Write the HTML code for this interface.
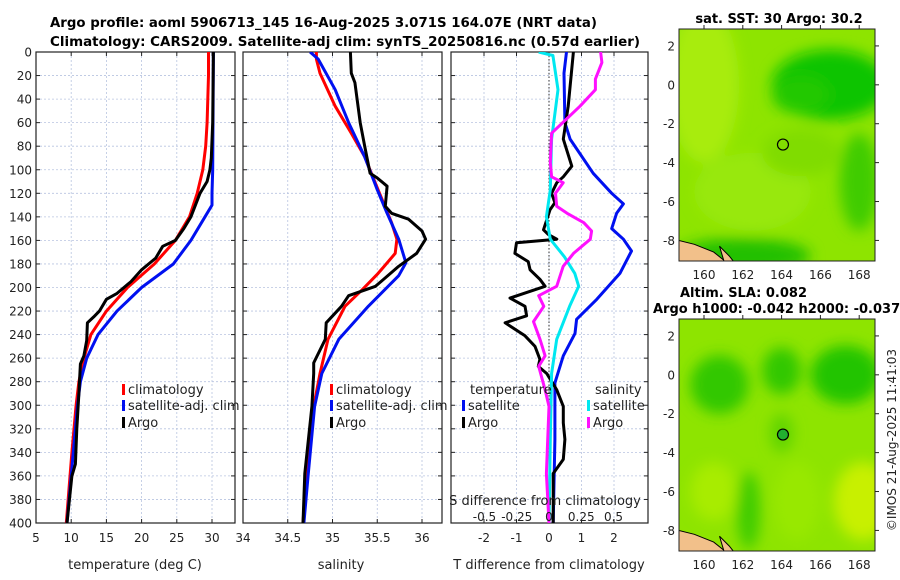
<!DOCTYPE html>
<html><head><meta charset="utf-8"><style>
html,body{margin:0;padding:0;background:#fff;}
svg{display:block;font-family:"DejaVu Sans","Liberation Sans",sans-serif;}
</style></head><body>
<svg id="fig" width="900" height="580" viewBox="0 0 900 580">
<defs>
<clipPath id="c1"><rect x="36" y="52" width="199" height="471"/></clipPath>
<clipPath id="c2"><rect x="243" y="52" width="199" height="471"/></clipPath>
<clipPath id="c3"><rect x="451" y="52" width="197" height="471"/></clipPath>
<clipPath id="m1"><rect x="679" y="29" width="196" height="232"/></clipPath>
<clipPath id="m2"><rect x="679" y="319" width="196" height="232"/></clipPath>
<filter id="bl"><feGaussianBlur stdDeviation="7"/></filter>
</defs>
<text x="50" y="27" font-size="13" font-weight="bold" textLength="547" lengthAdjust="spacingAndGlyphs">Argo profile: aoml 5906713_145 16-Aug-2025 3.071S 164.07E (NRT data)</text>
<text x="50" y="46" font-size="13" font-weight="bold" textLength="590" lengthAdjust="spacingAndGlyphs">Climatology: CARS2009. Satellite-adj clim: synTS_20250816.nc (0.57d earlier)</text>
<g id="p1"></g>
<g id="p2"></g>
<g id="p3"></g>
<g id="maps"></g>
<text transform="translate(896,440) rotate(-90)" text-anchor="middle" font-size="12" fill="#222">©IMOS 21-Aug-2025 11:41:03</text>
</svg>
<script>
// ---- data ----
const tClimDepth=[0,20,40,60,80,100,120,140,160,180,200,210,220,240,260,280,300,340,400];
const tClimVal=[29.5,29.5,29.4,29.3,29.1,28.7,27.9,26.8,24.8,21.8,18,16.5,15,12.8,11.8,11.1,10.7,10.1,9.3];
const tSatDepth=[0,100,120,130,140,160,180,200,220,240,260,280,300,340,400];
const tSatVal=[30.2,30.1,30.0,30.0,29,27,24.5,20,16.5,13.8,12.2,11.3,10.9,10.3,9.4];
const tArgoDepth=[0,60,90,100,110,120,140,150,160,165,175,185,195,205,210,220,225,230,245,258,265,290,320,350,360,400];
const tArgoVal=[30.2,30.1,29.9,29.7,29.3,28.3,27,26,24.8,23,22,20,18.5,16.5,15,14,13.2,12.3,12.2,11.8,11.3,11.1,10.8,10.6,10.1,9.4];
const sClimDepth=[0,6,18,46,69,89,117,145,159,171,188,202,216,244,273,301,358,400];
const sClimVal=[34.82,34.82,34.86,35.03,35.21,35.36,35.51,35.66,35.72,35.70,35.51,35.33,35.14,34.95,34.86,34.79,34.71,34.67];
const sSatDepth=[0,6,32,60,89,117,137,159,179,190,216,244,273,301,358,400];
const sSatVal=[34.75,34.84,35.03,35.18,35.36,35.50,35.61,35.74,35.82,35.74,35.40,35.07,34.88,34.80,34.73,34.68];
const sArgoDepth=[0,18,26,60,80,103,107,114,131,137,142,152,159,171,182,199,207,216,230,244,264,273,301,358,400];
const sArgoVal=[35.20,35.21,35.25,35.31,35.36,35.42,35.50,35.61,35.59,35.66,35.85,36.00,36.04,35.94,35.74,35.48,35.18,35.10,34.93,34.92,34.79,34.79,34.77,34.69,34.67];
const dTSatDepth=[0,18,60,74,103,120,129,137,150,159,169,188,210,227,239,258,281,329,400];
const dTSatVal=[0.54,0.46,0.49,0.65,1.36,1.93,2.29,2.08,1.93,2.29,2.54,2.18,1.47,0.85,0.8,0.44,0.18,0.18,0.13];
const dTArgoDepth=[0,46,74,97,106,111,120,128,134,151,155,159,162,171,178,185,193,199,209,216,224,230,241,250,261,267,273,287,301,315,329,346,358,400];
const dTArgoVal=[0.75,0.59,0.44,0.70,0.44,0.24,0.08,0.18,0.03,-0.17,-0.02,0.24,-1.0,-1.05,-0.64,-0.58,-0.28,-0.12,-1.2,-0.74,-0.69,-1.35,-0.74,-0.43,-0.28,-0.33,-0.07,0.24,0.44,0.44,0.49,0.44,0.13,0.13];
const dSSatDepth=[0,3,32,74,117,140,159,174,188,199,216,244,273,329,400];
const dSSatVal=[-0.08,0.03,0.07,0.02,0.01,-0.02,0.01,0.12,0.20,0.23,0.16,0.06,0.02,0.01,0];
const dSArgoDepth=[0,9,23,32,46,69,94,106,111,120,131,137,145,152,159,171,182,199,207,216,229,244,258,267,287,301,358,400];
const dSArgoVal=[0.40,0.41,0.36,0.36,0.24,0.02,0.01,0.02,0.11,0.05,0.06,0.14,0.27,0.33,0.32,0.19,0.11,0.06,-0.08,-0.04,-0.12,-0.07,-0.03,-0.08,-0.03,0,-0.02,0];
const depthTicks=[0,20,40,60,80,100,120,140,160,180,200,220,240,260,280,300,320,340,360,380,400];
const tTicks=[5,10,15,20,25,30];
const sTicks=[34,34.5,35,35.5,36];
const dTTicks=[-2,-1,0,1,2];
const dSTickLabels=["-0.5","-0.25","0","0.25","0.5"];
const dSTicks=[-0.5,-0.25,0,0.25,0.5];
const lonTicks=[160,162,164,166,168];
const latTicks=[2,0,-2,-4,-6,-8];
const argoLon=164.07, argoLat=-3.071;

const NS="http://www.w3.org/2000/svg";
function mk(parent,tag,attrs,text){const e=document.createElementNS(NS,tag);for(const k in attrs)e.setAttribute(k,attrs[k]);if(text!==undefined)e.textContent=text;parent.appendChild(e);return e;}
const Y0=52,Y1=523;
const yD=d=>Y0+d/400*(Y1-Y0);

function axesFrame(g,x0,x1,xs,xTicks,xLabels,showY){
  depthTicks.forEach(d=>{const l=mk(g,'line',{x1:x0,x2:x1,y1:yD(d),y2:yD(d),stroke:'#b8c4e0','stroke-width':0.8,'stroke-dasharray':'2,2'});
    
    mk(g,'line',{x1:x0,x2:x0+4,y1:yD(d),y2:yD(d),stroke:'#222'});mk(g,'line',{x1:x1-4,x2:x1,y1:yD(d),y2:yD(d),stroke:'#222'});
    if(showY){const t=mk(g,'text',{x:x0-4,y:yD(d)+4.5,'text-anchor':'end','font-size':12,fill:'#222'},String(d));
      }
  });
  xTicks.forEach((v,i)=>{const x=xs(v);const l=mk(g,'line',{x1:x,x2:x,y1:Y0,y2:Y1,stroke:'#b8c4e0','stroke-width':0.8,'stroke-dasharray':'2,2'});
    
    mk(g,'line',{x1:x,x2:x,y1:Y1-4,y2:Y1,stroke:'#222'});mk(g,'line',{x1:x,x2:x,y1:Y0,y2:Y0+4,stroke:'#222'});
    const t=mk(g,'text',{x:x,y:Y1+19,'text-anchor':'middle','font-size':12,fill:'#222'},xLabels[i]);
    
  });
  const r=mk(g,'rect',{x:x0,y:Y0,width:x1-x0,height:Y1-Y0,fill:'none',stroke:'#222','stroke-width':1.2});
  
}
function line(g,xs,depths,vals,color,clip,name){
  const pts=depths.map((d,i)=>xs(vals[i]).toFixed(1)+','+yD(d).toFixed(1)).join(' ');
  const p=mk(g,'polyline',{points:pts,fill:'none',stroke:color,'stroke-width':3,'stroke-linejoin':'round','clip-path':'url(#'+clip+')'});
  
}
function legendItem(g,x,y,color,label,name){
  mk(g,'rect',{x:x,y:y-10,width:3,height:11,fill:color});
  const t=mk(g,'text',{x:x+6,y:y,'font-size':13,fill:'#222'},label);
  
}
// Panel 1
const p1=document.getElementById('p1');
const xT=v=>36+(v-5)*7.04;
axesFrame(p1,36,235,xT,tTicks,tTicks.map(String),true);
line(p1,xT,tClimDepth,tClimVal,'#f00','c1','temp-climatology-line');
line(p1,xT,tSatDepth,tSatVal,'#0010f0','c1','temp-satellite-line');
line(p1,xT,tArgoDepth,tArgoVal,'#000','c1','temp-argo-line');
legendItem(p1,122,394,'#f00','climatology','legend-climatology');
legendItem(p1,122,410,'#0010f0','satellite-adj. clim','legend-satellite');
legendItem(p1,122,427,'#000','Argo','legend-argo');
let t=mk(p1,'text',{x:135,y:569,'text-anchor':'middle','font-size':13,fill:'#222'},'temperature (deg C)');

// Panel 2
const p2=document.getElementById('p2');
const xS=v=>243+(v-34)*89.5;
axesFrame(p2,243,442,xS,sTicks,sTicks.map(String),false);
line(p2,xS,sClimDepth,sClimVal,'#f00','c2','sal-climatology-line');
line(p2,xS,sSatDepth,sSatVal,'#0010f0','c2','sal-satellite-line');
line(p2,xS,sArgoDepth,sArgoVal,'#000','c2','sal-argo-line');
legendItem(p2,330,394,'#f00','climatology','legend-climatology');
legendItem(p2,330,410,'#0010f0','satellite-adj. clim','legend-satellite');
legendItem(p2,330,427,'#000','Argo','legend-argo');
t=mk(p2,'text',{x:341,y:569,'text-anchor':'middle','font-size':13,fill:'#222'},'salinity');

// Panel 3
const p3=document.getElementById('p3');
const xDT=v=>549+v*32.5;
const xDS=v=>549+v*129;
axesFrame(p3,451,648,xDT,dTTicks,dTTicks.map(String),false);
mk(p3,'line',{x1:549,x2:549,y1:Y0,y2:Y1,stroke:'#333','stroke-width':1,'stroke-dasharray':'1.5,2'});
line(p3,xDT,dTSatDepth,dTSatVal,'#0010f0','c3','dT-satellite-line');
line(p3,xDT,dTArgoDepth,dTArgoVal,'#000','c3','dT-argo-line');
line(p3,xDS,dSSatDepth,dSSatVal,'#00e8f0','c3','dS-satellite-line');
line(p3,xDS,dSArgoDepth,dSArgoVal,'#ff10ff','c3','dS-argo-line');
t=mk(p3,'text',{x:470,y:394,'font-size':13,fill:'#222'},'temperature');

t=mk(p3,'text',{x:595,y:394,'font-size':13,fill:'#222'},'salinity');

legendItem(p3,462,410,'#0010f0','satellite','legend-dT-satellite');
legendItem(p3,462,427,'#000','Argo','legend-dT-argo');
legendItem(p3,587,410,'#00e8f0','satellite','legend-dS-satellite');
legendItem(p3,587,427,'#ff10ff','Argo','legend-dS-argo');
t=mk(p3,'text',{x:545,y:505,'text-anchor':'middle','font-size':13,fill:'#222'},'S difference from climatology');

dSTicks.forEach((v,i)=>{const e=mk(p3,'text',{x:xDS(v),y:521,'text-anchor':'middle','font-size':12,fill:'#222'},dSTickLabels[i]);
  });
t=mk(p3,'text',{x:549,y:569,'text-anchor':'middle','font-size':13,fill:'#222'},'T difference from climatology');

// Maps
const maps=document.getElementById('maps');
const lonX=v=>704+(v-160)*19.4;
function drawMap(top,clip,blobs,name,filled){
  const latY=v=>top+(2.87-v)*19.45;
  const g=mk(maps,'g',{'clip-path':'url(#'+clip+')'});
  
  const bx=679,by=top,bw=196,bh=232;
  mk(g,'rect',{x:bx,y:by,width:bw,height:bh,fill:'#8ee400'});
  const fg=mk(g,'g',{filter:'url(#bl)'});
  blobs.forEach(b=>mk(fg,'ellipse',{cx:lonX(b[0]),cy:latY(b[1]),rx:b[2]*19.4,ry:b[3]*19.45,fill:b[4]}));
  mk(g,'path',{d:`M${lonX(158.7)} ${latY(-8.0)} L${lonX(159.5)} ${latY(-8.2)} L${lonX(160.5)} ${latY(-8.6)} L${lonX(161)} ${latY(-9.0)} L${lonX(161.2)} ${latY(-9.3)} L${lonX(158.7)} ${latY(-9.3)} Z`,fill:'#f2c08a',stroke:'#000','stroke-width':1});
  mk(g,'path',{d:`M${lonX(160.8)} ${latY(-8.3)} L${lonX(161.3)} ${latY(-8.8)} L${lonX(161.7)} ${latY(-9.3)} L${lonX(161.1)} ${latY(-9.3)} Z`,fill:'#f2c08a',stroke:'#000','stroke-width':1});
  const c=mk(g,'circle',{cx:lonX(argoLon),cy:latY(argoLat),r:5.5,fill:filled?'#22b030':'none',stroke:'#000','stroke-width':1.2});
  
  mk(maps,'rect',{x:bx,y:by,width:bw,height:bh,fill:'none',stroke:'#222','stroke-width':1});
  latTicks.forEach(v=>{const e=mk(maps,'text',{x:675,y:latY(v)+4.5,'text-anchor':'end','font-size':12,fill:'#222'},String(v));
    
    mk(maps,'line',{x1:bx+bw,x2:bx+bw+4,y1:latY(v),y2:latY(v),stroke:'#222'});});
  lonTicks.forEach(v=>{const e=mk(maps,'text',{x:lonX(v),y:by+bh+18,'text-anchor':'middle','font-size':12,fill:'#222'},String(v));
    
    mk(maps,'line',{x1:lonX(v),x2:lonX(v),y1:by-4,y2:by,stroke:'#222'});});
}
drawMap(29,'m1',[[166.5,0,3,1.8,'#10c400'],[165,-0.5,1.5,1,'#20c800'],[160,0,1.8,4,'#a8ec10'],[162.5,-5.5,3,2,'#98e810'],[168,-5,1,2.5,'#40cc00'],[162,-8.8,3.5,0.9,'#20c000'],[165,-3.5,2,1.2,'#80dc00']],'sst-map',false);
drawMap(319,'m2',[[160.8,-0.5,1.5,1.5,'#30c800'],[164,0.2,1,1.2,'#30c800'],[167.3,0,1.8,1.5,'#20c400'],[164,-3,0.6,1,'#60d400'],[168.2,-6.5,1.5,2,'#c8f000'],[160.5,-6,1.2,1.5,'#a8ec00'],[164.8,-6.5,1.2,2,'#98e800'],[162.3,-7,0.6,2,'#40cc00']],'sla-map',true);
t=mk(maps,'text',{x:779,y:23,'text-anchor':'middle','font-size':13,'font-weight':'bold'},'sat. SST: 30 Argo: 30.2');

t=mk(maps,'text',{x:680,y:297,'font-size':13,'font-weight':'bold'},'Altim. SLA: 0.082');

t=mk(maps,'text',{x:653,y:313,'font-size':13,'font-weight':'bold'},'Argo h1000: -0.042 h2000: -0.037');

</script>
</body></html>
